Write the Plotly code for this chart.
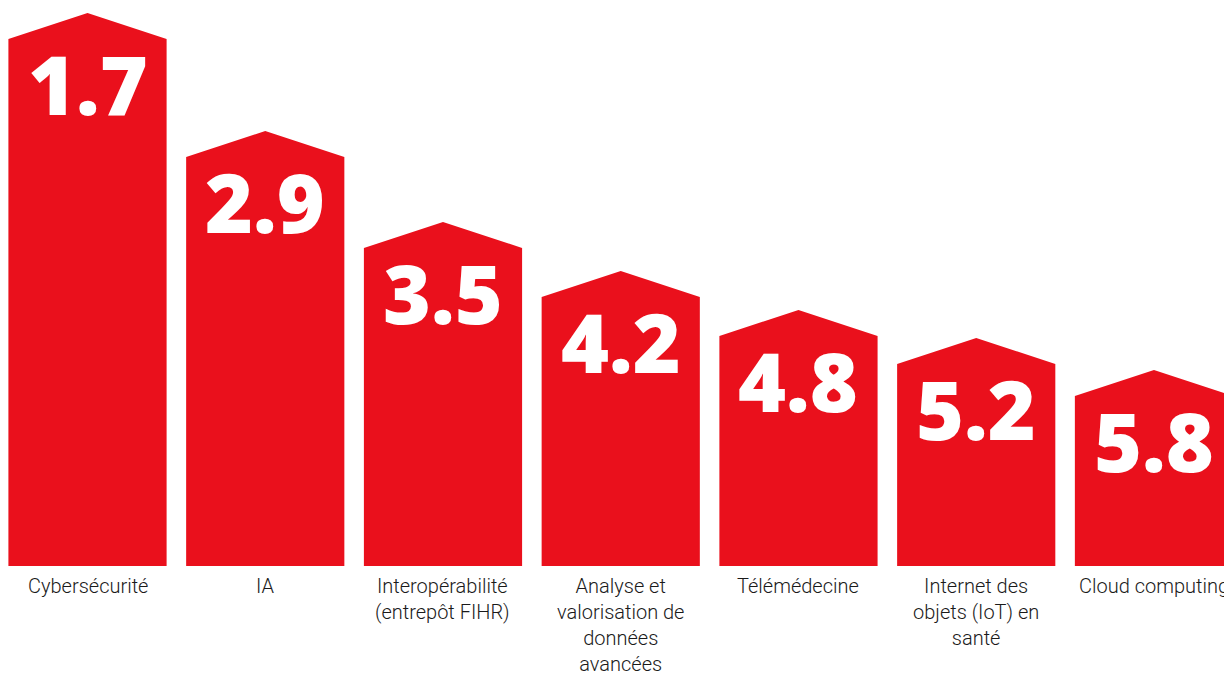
import plotly.graph_objects as go

categories = [
    "Cybersécurité",
    "IA",
    "Interopérabilité<br>(entrepôt FIHR)",
    "Analyse et<br>valorisation de<br>données<br>avancées",
    "Télémédecine",
    "Internet des<br>objets (IoT) en<br>santé",
    "Cloud computing",
]
values = [1.7, 2.9, 3.5, 4.2, 4.8, 5.2, 5.8]
value_labels = ["1.7", "2.9", "3.5", "4.2", "4.8", "5.2", "5.8"]
# visual bar heights (shoulder heights)
heights = [527, 409, 318, 269, 230, 202, 170]

RED = "#EA101C"
ROOF = 26
HALF = 0.445

# house shaped polygons built from data
xs, ys = [], []
for i, h in enumerate(heights):
    xs += [i - HALF, i - HALF, i, i + HALF, i + HALF, i - HALF, None]
    ys += [0, h, h + ROOF, h, 0, 0, None]

fig = go.Figure()
fig.add_trace(go.Scatter(
    x=xs, y=ys, mode="lines", fill="toself", fillcolor=RED,
    line=dict(width=0, color=RED), hoverinfo="skip", showlegend=False,
))

for i, (h, t) in enumerate(zip(heights, value_labels)):
    fig.add_annotation(
        x=i, y=h, text=t, showarrow=False, yanchor="top", xanchor="center",
        yshift=14,
        font=dict(family="Open Sans", size=82, color="white", weight=800),
    )
    fig.add_annotation(
        x=i, y=0, text=categories[i], showarrow=False, yanchor="top", xanchor="center",
        yshift=-6, align="center",
        font=dict(family="Roboto", size=20, color="#1a1a1a", weight=300),
    )

fig.update_layout(
    width=1224, height=669,
    margin=dict(l=0, r=0, t=0, b=111),
    paper_bgcolor="white", plot_bgcolor="white",
    xaxis=dict(range=[-0.4473, 6.439], visible=False, fixedrange=True),
    yaxis=dict(range=[0, 558], visible=False, fixedrange=True),
    showlegend=False,
)

fig.write_html("out.html")
